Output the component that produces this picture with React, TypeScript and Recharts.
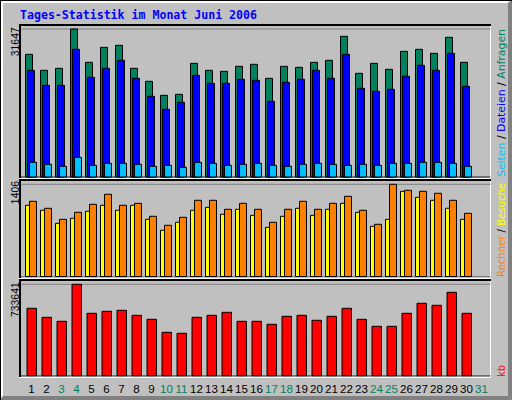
import React from 'react';
import { BarChart, Bar, XAxis, YAxis, CartesianGrid } from 'recharts';

const days = ['1','2','3','4','5','6','7','8','9','10','11','12','13','14','15','16','17','18','19','20','21','22','23','24','25','26','27','28','29','30','31'];
const weekendDays = ['3','4','10','11','17','18','24','25','31'];

// Anfragen (hits)
const hits = [26233, 22812, 23240, 31647, 24523, 27730, 28157, 23240, 20461, 17467, 17681, 24309, 22812, 22598, 23667, 24095, 21102, 23667, 23454, 24523, 24950, 30082, 22171, 24309, 23026, 26874, 27302, 26447, 29868, 24523, null];
// Dateien (files)
const files = [22812, 19605, 19605, 27302, 21316, 23240, 24950, 21102, 17254, 14474, 15971, 21743, 20033, 20033, 20888, 20674, 16185, 20247, 20888, 22812, 21102, 26233, 18964, 18323, 18750, 21530, 23881, 22812, 26447, 19392, null];
// Seiten (pages)
const pages = [3143, 2715, 2288, 4212, 2501, 2929, 2929, 2715, 2288, 2501, 2074, 3143, 2929, 2501, 2715, 2929, 2501, 2288, 2715, 2929, 2715, 2501, 2715, 2501, 2929, 2929, 3143, 3143, 2929, 2288, null];
// Besuche (yellow)
const besuche = [1086, 1010, 811, 888, 994, 1086, 1010, 1086, 872, 705, 827, 1010, 1055, 949, 1025, 933, 750, 918, 1040, 933, 1025, 1116, 979, 766, 872, 1299, 1208, 1162, 1040, 872, null];
// Rechner (orange)
const rechner = [1147, 1040, 872, 979, 1101, 1254, 1086, 1116, 918, 781, 903, 1162, 1162, 1025, 1116, 1025, 827, 1025, 1147, 1025, 1116, 1223, 1010, 796, 1406, 1315, 1299, 1269, 1162, 964, null];
// kb
const kbytes = [541020, 468777, 436668, 733641, 500885, 516939, 524966, 484831, 452723, 348372, 340345, 468777, 484831, 508912, 436668, 436668, 412588, 476804, 484831, 444696, 476804, 541020, 452723, 396534, 396534, 500885, 581155, 565101, 669452, 500885, null];

const gridTop = [10542, 21447];
const gridMid = [454, 964];
const gridBot = [232776, 500870];

const titleText = 'Tages-Statistik im Monat Juni 2006';

const maxOf = (a: (number | null)[]) => Math.max(...(a.filter((v) => v !== null) as number[]));
const maxTop = maxOf(hits);
const maxMid = maxOf(rechner);
const maxBot = maxOf(kbytes);

const data = days.map((d, i) => ({
  day: d,
  hits: hits[i],
  files: files[i],
  pages: pages[i],
  besuche: besuche[i],
  rechner: rechner[i],
  kbytes: kbytes[i],
}));

const C_HIT = '#00805c';
const C_FILE = '#0000ff';
const C_PAGE = '#00c0ff';
const C_VISIT = '#ffff00';
const C_SITE = '#ff8000';
const C_KB = '#ff0000';
const GRID = '#808080';

const numFont = "'Liberation Sans', Arial, sans-serif";
const tickFont = "'Liberation Sans Narrow', 'Liberation Sans', Arial, sans-serif";
const sideFont = "'DejaVu Sans', sans-serif";

function DayTick(props: any) {
  const { x, y, payload } = props;
  const color = weekendDays.includes(payload.value) ? C_HIT : '#000000';
  return (
    <text x={x} y={y} dy={9.3} textAnchor="middle" fill={color} fontFamily={tickFont} fontSize={11.6}>
      {payload.value}
    </text>
  );
}

const hiddenY = (max: number, ticks: number[]) => (
  <YAxis domain={[0, max]} ticks={ticks} width={0} tick={false} axisLine={false} tickLine={false} type="number" />
);

export default function App() {
  const abs = (top: number): React.CSSProperties => ({ position: 'absolute', left: 0, top });
  return (
    <div style={{ position: 'absolute', left: 0, top: 0, width: 512, height: 400, overflow: 'hidden' }}>
      <svg width={512} height={400} style={{ position: 'absolute', left: 0, top: 0 }}>
        <rect x={0} y={0} width={512} height={400} fill="#c0c0c0" />
        <polygon points="1,1 511,1 508,3 3,3" fill="#ffffff" />
        <polygon points="1,1 3,3 3,396 1,399" fill="#ffffff" />
        <polygon points="508,3 512,0 512,400 508,396" fill="#808080" />
        <polygon points="3,396 508,396 512,400 0,400" fill="#808080" />
        <rect x={0} y={0} width={512} height={1} fill="#000" />
        <rect x={0} y={0} width={1} height={400} fill="#000" />

        {/* panel 1 */}
        <rect x={19} y={24} width={472} height={2} fill="#000" />
        <rect x={19} y={24} width={2} height={154} fill="#000" />
        <rect x={490} y={26} width={1} height={153} fill="#fff" />
        <rect x={21} y={176.5} width={469} height={1} fill="#000" />
        <rect x={19} y={178} width={472} height={1} fill="#fff" />
        {/* panel 2 */}
        <rect x={19} y={179} width={472} height={2} fill="#000" />
        <rect x={19} y={179} width={2} height={99} fill="#000" />
        <rect x={490} y={181} width={1} height={98} fill="#fff" />
        <rect x={21} y={276} width={469} height={1} fill="#000" />
        <rect x={19} y={278} width={472} height={1} fill="#fff" />
        {/* panel 3 */}
        <rect x={19} y={279} width={472} height={2} fill="#000" />
        <rect x={19} y={279} width={2} height={98} fill="#000" />
        <rect x={490} y={281} width={1} height={97} fill="#fff" />
        <rect x={21} y={375.2} width={469} height={1} fill="#000" />
        <rect x={19} y={377} width={472} height={1} fill="#fff" />

        {/* title */}
        <text x={20} y={19} fill="#0000ff" fontFamily="'DejaVu Sans Mono', monospace" fontWeight="bold" fontSize={11.5} textLength={237} lengthAdjust="spacingAndGlyphs">
          {titleText}
        </text>

        {/* left max labels */}
        <text x={19} y={27.3} transform="rotate(-90 19 27.3)" textAnchor="end" fontFamily={numFont} fontSize={10.4} fill="#000">{String(maxTop)}</text>
        <text x={19} y={181} transform="rotate(-90 19 181)" textAnchor="end" fontFamily={numFont} fontSize={10.4} fill="#000">{String(maxMid)}</text>
        <text x={19} y={282.3} transform="rotate(-90 19 282.3)" textAnchor="end" fontFamily={numFont} fontSize={10.4} fill="#000">{String(maxBot)}</text>

        {/* right legends */}
        <text x={504.5} y={177} transform="rotate(-90 504.5 177)" fontFamily={sideFont} fontSize={10.5} textLength={148} lengthAdjust="spacingAndGlyphs">
          <tspan fill={C_PAGE}>Seiten</tspan>
          <tspan fill="#000"> / </tspan>
          <tspan fill={C_FILE}>Dateien</tspan>
          <tspan fill="#000"> / </tspan>
          <tspan fill={C_HIT}>Anfragen</tspan>
        </text>
        <text x={504.5} y={277} transform="rotate(-90 504.5 277)" fontFamily={sideFont} fontSize={10.5} textLength={94} lengthAdjust="spacingAndGlyphs">
          <tspan fill={C_SITE}>Rechner</tspan>
          <tspan fill="#000"> / </tspan>
          <tspan fill={C_VISIT}>Besuche</tspan>
        </text>
        <text x={504.5} y={377} transform="rotate(-90 504.5 377)" fontFamily={sideFont} fontSize={10.5} textLength={12} lengthAdjust="spacingAndGlyphs" fill={C_KB}>
          kb
        </text>
      </svg>

      <div style={abs(0)}>
        <BarChart width={512} height={180} data={data} margin={{ top: 29, right: 21.5, bottom: 3, left: 21.5 }}>
          <CartesianGrid xAxisId="g" vertical={false} stroke={GRID} strokeWidth={1} />
          <XAxis xAxisId="g" dataKey="day" hide padding={{ left: 0, right: 4 }} />
          <XAxis xAxisId="f" dataKey="day" hide padding={{ left: 2, right: 2 }} />
          <XAxis xAxisId="p" dataKey="day" hide padding={{ left: 4, right: 0 }} />
          {hiddenY(maxTop, gridTop)}
          <Bar xAxisId="g" dataKey="hits" fill={C_HIT} stroke="#000" strokeWidth={1} barSize={7} isAnimationActive={false} />
          <Bar xAxisId="f" dataKey="files" fill={C_FILE} stroke="#000" strokeWidth={1} barSize={7} isAnimationActive={false} />
          <Bar xAxisId="p" dataKey="pages" fill={C_PAGE} stroke="#000" strokeWidth={1} barSize={7} isAnimationActive={false} />
        </BarChart>
      </div>

      <div style={abs(180)}>
        <BarChart width={512} height={100} data={data} margin={{ top: 4.3, right: 21.5, bottom: 3.5, left: 21.5 }}>
          <CartesianGrid xAxisId="v" vertical={false} stroke={GRID} strokeWidth={1} />
          <XAxis xAxisId="v" dataKey="day" hide padding={{ left: 0, right: 4 }} />
          <XAxis xAxisId="s" dataKey="day" hide padding={{ left: 4, right: 0 }} />
          {hiddenY(maxMid, gridMid)}
          <Bar xAxisId="v" dataKey="besuche" fill={C_VISIT} stroke="#000" strokeWidth={1} barSize={7} isAnimationActive={false} />
          <Bar xAxisId="s" dataKey="rechner" fill={C_SITE} stroke="#000" strokeWidth={1} barSize={7} isAnimationActive={false} />
        </BarChart>
      </div>

      <div style={abs(280)}>
        <BarChart width={512} height={120} data={data} margin={{ top: 4.3, right: 21.5, bottom: 4.3, left: 21.5 }}>
          <CartesianGrid xAxisId="k" vertical={false} stroke={GRID} strokeWidth={1} />
          <XAxis
            xAxisId="k"
            dataKey="day"
            height={20}
            padding={{ left: 2.5, right: 1.5 }}
            interval={0}
            axisLine={false}
            tickLine={false}
            tickSize={6}
            tickMargin={2}
            tick={<DayTick />}
          />
          {hiddenY(maxBot, gridBot)}
          <Bar xAxisId="k" dataKey="kbytes" fill={C_KB} stroke="#000" strokeWidth={1} barSize={9.5} isAnimationActive={false} />
        </BarChart>
      </div>
    </div>
  );
}
